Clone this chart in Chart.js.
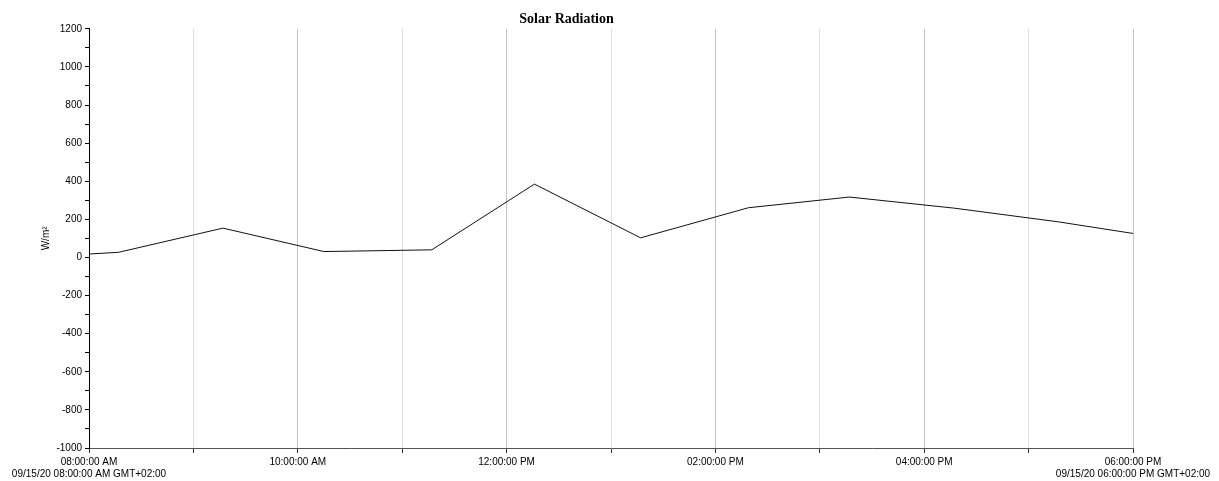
<!DOCTYPE html>
<html>
<head>
<meta charset="utf-8">
<script src="https://cdn.jsdelivr.net/npm/chart.js@4.4.1/dist/chart.umd.min.js"></script>
<style>
  html, body { margin: 0; padding: 0; background: #fff; }
  #wrap { width: 1219px; height: 481px; }
</style>
</head>
<body>
<div id="wrap"><canvas id="chart"></canvas></div>
<script>
// readings of 09/15/20 (local time, hh:mm)
const times = ['08:00', '08:17', '09:17', '10:15', '11:17', '12:16', '13:17', '14:19', '15:17', '16:17', '17:17', '18:00'];
const radiation = [18, 27, 154, 31, 40, 385, 103, 261, 317, 259, 187, 126];
const dayLabel = '09/15/20';
const zoneLabel = 'GMT+02:00';

const toHours = s => { const [h, m] = s.split(':').map(Number); return h + m / 60; };
const points = times.map((t, i) => ({ x: toHours(t), y: radiation[i] }));

function clock(h) {
    const hh = h % 12 === 0 ? 12 : h % 12;
    const ap = h < 12 ? 'AM' : 'PM';
    return String(hh).padStart(2, '0') + ':00:00 ' + ap;
}

const ctx = document.getElementById('chart').getContext('2d');
const font = { family: '"Liberation Sans", Arial, sans-serif', size: 10 };

new Chart(ctx, {
    type: 'line',
    data: {
        datasets: [{
            label: 'Solar Radiation',
            data: points,
            borderColor: '#111',
            borderWidth: 1,
            pointRadius: 0,
            tension: 0,
            fill: false
        }]
    },
    options: {
        responsive: true,
        maintainAspectRatio: false,
        animation: false,
        layout: { padding: { left: 0, right: 86, top: 0, bottom: 0 } },
        plugins: {
            legend: { display: false },
            tooltip: { enabled: false },
            title: {
                display: true,
                text: 'Solar Radiation',
                color: '#000',
                font: { family: '"Liberation Serif", "Times New Roman", serif', size: 14, weight: 'bold' },
                padding: { top: 11, bottom: 1 }
            }
        },
        scales: {
            x: {
                type: 'linear',
                min: 8,
                max: 18,
                afterFit: s => { s.height = 33; },
                ticks: {
                    stepSize: 1,
                    autoSkip: false,
                    maxRotation: 0,
                    color: '#000',
                    font: font,
                    padding: 3,
                    callback: v => {
                        if (v % 2 !== 0) return '';
                        const lab = clock(v);
                        if (v === 8 || v === 18) return [lab, dayLabel + ' ' + lab + ' ' + zoneLabel];
                        return lab;
                    }
                },
                grid: {
                    color: c => (c.tick && c.tick.value % 2 === 0) ? '#c4c4c4' : '#dedede',
                    tickColor: '#333',
                    tickLength: 5,
                    drawTicks: true
                },
                border: { color: '#555', width: 1 }
            },
            y: {
                min: -1000,
                max: 1200,
                afterFit: s => { s.width = 89; },
                ticks: {
                    stepSize: 100,
                    autoSkip: false,
                    color: '#000',
                    font: font,
                    padding: 3,
                    callback: v => (v % 200 === 0 ? String(v) : '')
                },
                grid: {
                    drawOnChartArea: false,
                    tickColor: '#000',
                    tickLength: 4
                },
                border: { color: '#000', width: 1 },
                title: {
                    display: true,
                    text: 'W/m²',
                    color: '#000',
                    font: font,
                    padding: { top: 40, bottom: 0 }
                }
            }
        }
    }
});
</script>
</body>
</html>
